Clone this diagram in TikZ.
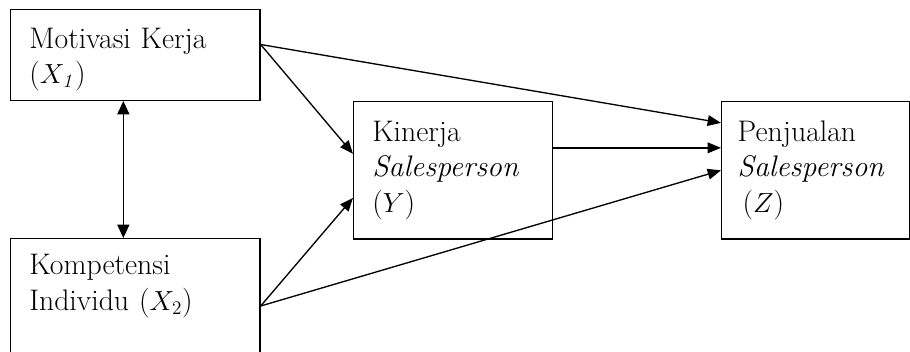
\documentclass[tikz,border=0pt]{standalone}
\usetikzlibrary{calc, arrows.meta}

\begin{document}
\begin{tikzpicture}[x=0.75pt, y=-0.75pt, line width=1pt,
  box/.style={draw, anchor=north west, align=left, inner xsep=14pt,
    font=\fontsize{22.3}{26.5}\selectfont},
  arr/.style={-{Triangle[length=10pt, width=8pt]}}]
  \useasboundingbox (0,0) rectangle (910,351);

  % kotak variabel
  \node[box, text width=159pt, minimum height=68pt] (mot) at (10,9)
    {\rule{0pt}{22pt}Motivasi Kerja\\($X_{\mathit{1}}$)};
  \node[box, text width=159pt, minimum height=92pt] (komp) at (10,238)
    {Kompetensi\\Individu ($X_2$)\\ ~};
  \node[box, text width=121pt, minimum height=103pt] (kin) at (353,101)
    {Kinerja\\\textit{Salesperson}\\($Y$)};
  \node[box, text width=117pt, minimum height=103pt, inner xsep=12pt] (pen) at (721,101)
    {Penjualan\\\textit{Salesperson}\\ \,($Z$)};

  % titik pangkal panah
  \coordinate (m1) at ($(mot.east)+(0,-10.5)$);
  \coordinate (k1) at ($(komp.north east)+(0,68)$);

  \draw[arr] (m1) -- ($(kin.west)+(0,-16.5)$);
  \draw[arr] (m1) -- ($(pen.west)+(0,-47.5)$);
  \draw[arr] (k1) -- ($(kin.west)+(0,27.5)$);
  \draw[arr] (k1) -- (pen.west);
  \draw[arr] ($(kin.east)+(0,-22.5)$) -- ($(pen.west)+(0,-22.5)$);

  \draw[{Triangle[length=10pt, width=9pt]}-{Triangle[length=10pt, width=9pt]}]
    ($(mot.south)+(-12,0)$) -- ($(komp.north)+(-12,0)$);
\end{tikzpicture}
\end{document}
